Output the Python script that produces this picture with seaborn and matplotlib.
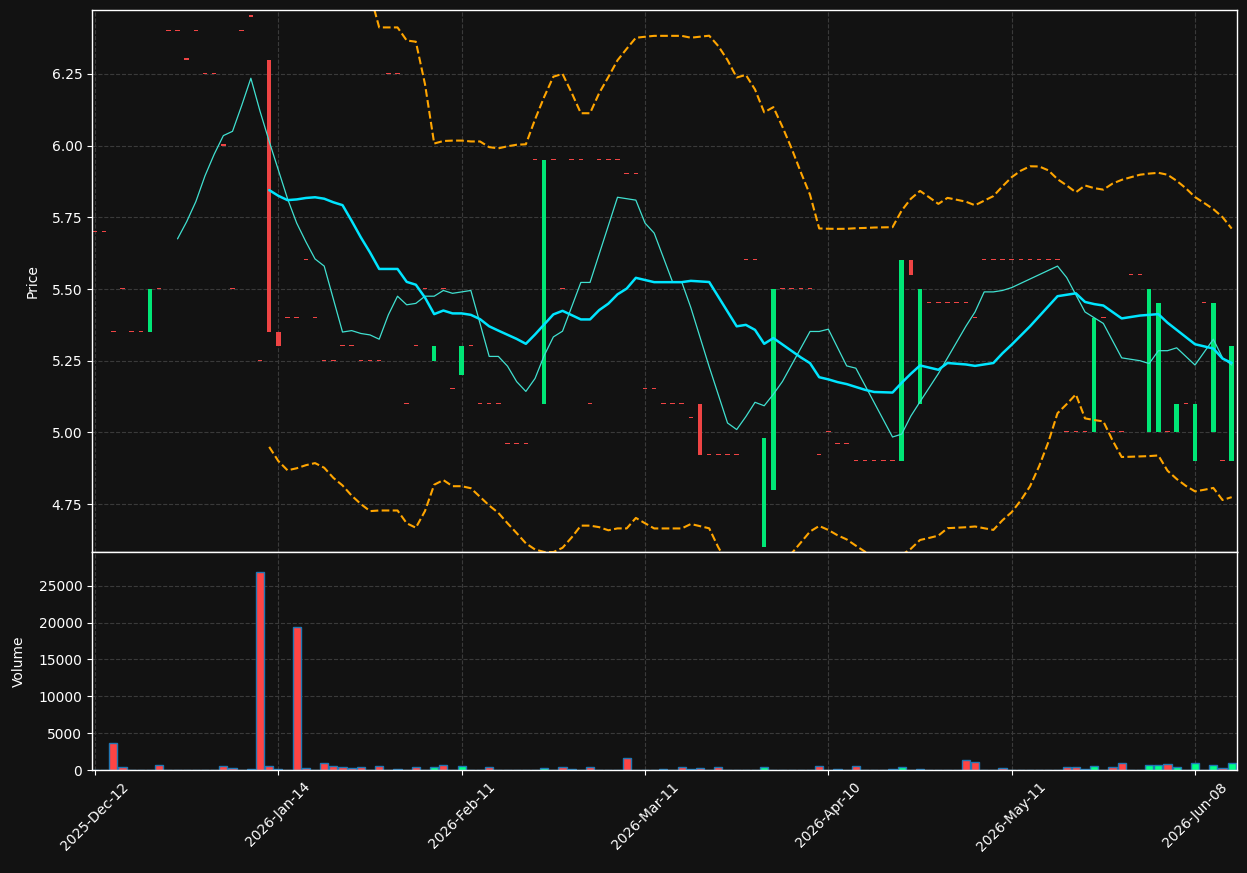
import numpy as np
import pandas as pd
import seaborn as sns
import matplotlib.pyplot as plt

# daily bars (index = trading day)
opens = [
    5.70, 5.70, 5.35, 5.50, 5.35, 5.35, 5.35, 5.50, 6.40, 6.40,
    6.30, 6.40, 6.25, 6.25, 6.00, 5.50, 6.40, 6.45, 5.25, 6.30,
    5.35, 5.40, 5.40, 5.60, 5.40, 5.25, 5.25, 5.30, 5.30, 5.25,
    5.25, 5.25, 6.25, 6.25, 5.10, 5.30, 5.50, 5.25, 5.50, 5.15,
    5.20, 5.30, 5.10, 5.10, 5.10, 4.96, 4.96, 4.96, 5.95, 5.10,
    5.95, 5.50, 5.95, 5.95, 5.10, 5.95, 5.95, 5.95, 5.90, 5.90,
    5.15, 5.15, 5.10, 5.10, 5.10, 5.05, 5.10, 4.92, 4.92, 4.92,
    4.92, 5.60, 5.60, 4.60, 4.80, 5.50, 5.50, 5.50, 5.50, 4.92,
    5.00, 4.96, 4.96, 4.90, 4.90, 4.90, 4.90, 4.90, 4.90, 5.60,
    5.10, 5.45, 5.45, 5.45, 5.45, 5.45, 5.40, 5.60, 5.60, 5.60,
    5.60, 5.60, 5.60, 5.60, 5.60, 5.60, 5.00, 5.00, 5.00, 5.00,
    5.40, 5.00, 5.00, 5.55, 5.55, 5.00, 5.00, 5.00, 5.00, 5.10,
    4.90, 5.45, 5.00, 4.90, 4.90,
]
closes = [
    5.70, 5.70, 5.35, 5.50, 5.35, 5.35, 5.50, 5.50, 6.40, 6.40,
    6.30, 6.40, 6.25, 6.25, 6.00, 5.50, 6.40, 6.45, 5.25, 5.35,
    5.30, 5.40, 5.40, 5.60, 5.40, 5.25, 5.25, 5.30, 5.30, 5.25,
    5.25, 5.25, 6.25, 6.25, 5.10, 5.30, 5.50, 5.30, 5.50, 5.15,
    5.30, 5.30, 5.10, 5.10, 5.10, 4.96, 4.96, 4.96, 5.95, 5.95,
    5.95, 5.50, 5.95, 5.95, 5.10, 5.95, 5.95, 5.95, 5.90, 5.90,
    5.15, 5.15, 5.10, 5.10, 5.10, 5.05, 4.92, 4.92, 4.92, 4.92,
    4.92, 5.60, 5.60, 4.98, 5.50, 5.50, 5.50, 5.50, 5.50, 4.92,
    5.00, 4.96, 4.96, 4.90, 4.90, 4.90, 4.90, 4.90, 5.60, 5.55,
    5.50, 5.45, 5.45, 5.45, 5.45, 5.45, 5.40, 5.60, 5.60, 5.60,
    5.60, 5.60, 5.60, 5.60, 5.60, 5.60, 5.00, 5.00, 5.00, 5.40,
    5.40, 5.00, 5.00, 5.55, 5.55, 5.50, 5.45, 5.00, 5.10, 5.10,
    5.10, 5.45, 5.45, 4.90, 5.30,
]
volumes = [
    0, 0, 3600, 350, 0, 0, 0, 640, 0, 0,
    0, 0, 0, 0, 500, 230, 0, 100, 26900, 500,
    100, 0, 19400, 230, 0, 900, 500, 350, 230, 350,
    0, 500, 0, 100, 0, 350, 0, 350, 640, 0,
    500, 0, 0, 350, 0, 0, 0, 0, 0, 230,
    0, 350, 80, 0, 350, 0, 0, 0, 1600, 0,
    0, 0, 80, 0, 350, 80, 230, 0, 350, 0,
    0, 0, 0, 350, 0, 0, 0, 0, 0, 500,
    0, 80, 0, 500, 0, 0, 0, 80, 350, 0,
    80, 0, 0, 0, 0, 1320, 1050, 0, 0, 230,
    0, 0, 0, 0, 0, 0, 350, 350, 80, 500,
    0, 350, 900, 0, 0, 640, 640, 780, 350, 0,
    900, 0, 640, 230, 900,
]
tick_pos = [0, 20, 40, 60, 80, 100, 120]
tick_labels = ['2025-Dec-12', '2026-Jan-14', '2026-Feb-11', '2026-Mar-11',
               '2026-Apr-10', '2026-May-11', '2026-Jun-08']

df = pd.DataFrame({'open': opens, 'close': closes, 'volume': volumes})
df['idx'] = np.arange(len(df))
df['sma10'] = df['close'].rolling(10).mean()
df['sma20'] = df['close'].rolling(20).mean()
std20 = df['close'].rolling(20).std(ddof=0)
df['bb_up'] = df['sma20'] + 2 * std20
df['bb_lo'] = df['sma20'] - 2 * std20

bg = '#121212'
sns.set_style('dark', {'axes.facecolor': bg, 'figure.facecolor': bg,
                       'axes.edgecolor': 'white', 'grid.color': '#3a3a3a',
                       'grid.linestyle': '--', 'text.color': 'white',
                       'axes.labelcolor': 'white', 'xtick.color': 'white',
                       'ytick.color': 'white'})
plt.rcParams['font.family'] = ['DejaVu Sans']

W, H = 1247, 873
fig = plt.figure(figsize=(W / 100, H / 100), dpi=100)
ax1 = fig.add_axes([92 / W, 1 - 552 / H, 1145 / W, 542 / H])
ax2 = fig.add_axes([92 / W, 1 - 770 / H, 1145 / W, 218 / H])

up = df['close'] > df['open']
body_col = np.where(up, '#00E676', '#EF4444')
body_h = np.maximum((df['close'] - df['open']).abs(), 0.004)
body_b = np.minimum(df['open'], df['close'])
ax1.bar(df['idx'], body_h, bottom=body_b, width=0.5, color=body_col, linewidth=0)

sns.lineplot(data=df, x='idx', y='sma10', ax=ax1, color='#40E0D0', linewidth=0.9)
sns.lineplot(data=df, x='idx', y='sma20', ax=ax1, color='#00E5FF', linewidth=1.8)
sns.lineplot(data=df, x='idx', y='bb_up', ax=ax1, color='#FFA500', linewidth=1.5, linestyle='--')
sns.lineplot(data=df, x='idx', y='bb_lo', ax=ax1, color='#FFA500', linewidth=1.5, linestyle='--')

vol_col = np.where(up, '#00FF88', '#FF4444')
ax2.bar(df['idx'], df['volume'], width=0.9, color=vol_col, edgecolor='#1f77b4', linewidth=1)

for ax in (ax1, ax2):
    ax.set_xlim(-0.33, 124.58)
    ax.set_xticks(tick_pos)
    ax.grid(True, linestyle='--', color='#3a3a3a', linewidth=0.8)
    ax.set_axisbelow(True)
    for s in ax.spines.values():
        s.set_color('white')
        s.set_linewidth(1)
    ax.tick_params(axis='y', left=True, length=3.5, colors='white', labelsize=10)

ax1.set_ylim(4.583, 6.473)
ax1.set_yticks([4.75, 5.00, 5.25, 5.50, 5.75, 6.00, 6.25])
ax1.tick_params(axis='x', bottom=False, labelbottom=False)
ax1.set_xlabel('')
ax1.set_ylabel('Price', color='white', labelpad=8.5)

ax2.set_ylim(0, max(volumes) * 1.1)
ax2.set_yticks([0, 5000, 10000, 15000, 20000, 25000])
ax2.set_xticklabels(tick_labels, rotation=45)
ax2.tick_params(axis='x', bottom=True, length=3.5, colors='white', labelsize=10)
ax2.set_xlabel('')
ax2.set_ylabel('Volume', color='white', labelpad=9)

fig.savefig('out.png', dpi=100, facecolor=bg)
